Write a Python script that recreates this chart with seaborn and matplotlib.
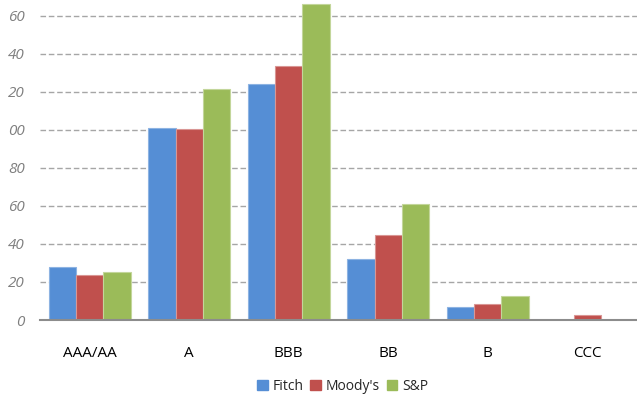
import matplotlib
matplotlib.use("Agg")
import matplotlib.pyplot as plt
import seaborn as sns
import pandas as pd
from matplotlib.patches import Patch

categories = ["AAA/AA", "A", "BBB", "BB", "B", "CCC"]
agencies = ["Fitch", "Moody's", "S&P"]
fitch = [28, 101, 124, 32, 7, 0]
moodys = [23.5, 100.5, 133.5, 44.5, 8.5, 2.7]
sp = [25.3, 121.5, 166.5, 61.3, 12.5, 0]
ytick_values = [0, 20, 40, 60, 80, 100, 120, 140, 160]
ytick_labels = ["0", "20", "40", "60", "80", "00", "20", "40", "60"]
colors = ["#558ED5", "#C0504D", "#9BBB59"]
edge_colors = ["#8DB3E2", "#D99694", "#C3D69B"]

rows = []
for ag, vals in zip(agencies, [fitch, moodys, sp]):
    for c, v in zip(categories, vals):
        rows.append({"Rating": c, "Agency": ag, "Value": v})
df = pd.DataFrame(rows)

sns.set_theme(style="white")
plt.rcParams["font.family"] = ["Open Sans", "DejaVu Sans"]

fig = plt.figure(figsize=(6.37, 3.98), dpi=100)
ax = fig.add_axes([40 / 637, 78 / 398, 597 / 637, 320 / 398])

sns.barplot(data=df, x="Rating", y="Value", hue="Agency", order=categories,
            hue_order=agencies, palette=colors, width=0.82, ax=ax,
            legend=False, saturation=1, errorbar=None)

for i, cont in enumerate(ax.containers):
    for bar in cont:
        bar.set_edgecolor(edge_colors[i])
        bar.set_linewidth(0.8)
        bar.set_zorder(3)

ax.set_ylim(0, 168.4)
ax.set_xlim(-0.5, len(categories) - 0.5)
ax.set_yticks(ytick_values)
ax.set_yticklabels(ytick_labels, fontsize=11, color="#7F7F7F", fontstyle="italic")
ax.tick_params(axis="y", length=0, pad=11)
ax.tick_params(axis="x", length=0, pad=19, labelsize=11, labelcolor="#000000")
for t in ax.get_xticklabels():
    t.set_color("black")

for y in ytick_values[1:]:
    ax.axhline(y, color="#A6A6A6", linewidth=1.0, linestyle=(0, (4, 2)), zorder=1)

for s in ["top", "right", "left"]:
    ax.spines[s].set_visible(False)
ax.spines["bottom"].set_color("#8C8C8C")
ax.spines["bottom"].set_linewidth(1.5)
ax.spines["bottom"].set_zorder(4)
ax.set_xlabel("")
ax.set_ylabel("")

handles = [Patch(facecolor=c, edgecolor=c) for c in colors]
ax.legend(handles, agencies, loc="center", bbox_to_anchor=(0.507, -66 / 320),
          ncol=3, frameon=False, fontsize=10, handlelength=0.75, handleheight=0.75,
          columnspacing=0.5, handletextpad=0.35)

fig.savefig("out.png", dpi=100)
